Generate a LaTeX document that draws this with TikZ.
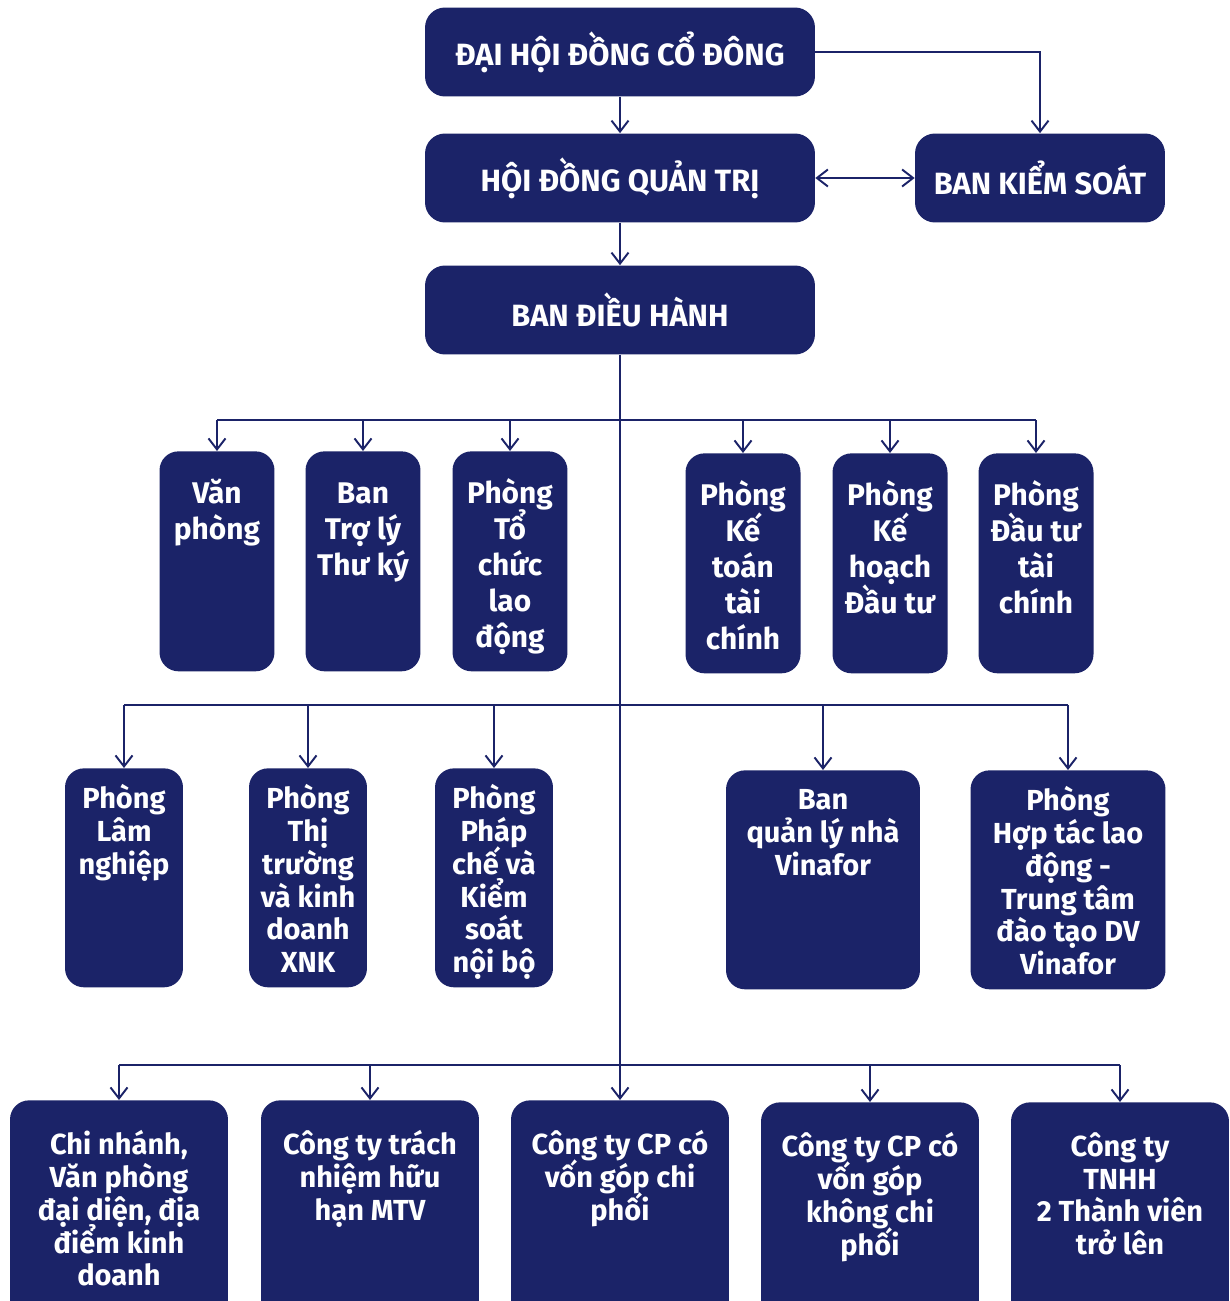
\documentclass[tikz,border=0pt]{standalone}
\usepackage{fontspec}
\setmainfont{Fira Sans}
\usetikzlibrary{arrows.meta}
\definecolor{navy}{RGB}{27,35,104}
\newcommand{\boxtxt}[4]{\parbox[t][#2][t]{#1}{\lineskiplimit=-\maxdimen\centering\vspace*{#3}\strut#4\par}}

\begin{document}
\begin{tikzpicture}[
  x=0.02cm, y=-0.02cm,
  >={Straight Barb[length=2.2mm,width=3.4mm]},
  head/.style={fill=navy,rounded corners=0.4cm,text=white,minimum height=1.78cm,
    font=\bfseries\fontsize{17.5}{21}\selectfont},
  dept/.style={fill=navy,rounded corners=0.38cm,text=white,inner sep=0pt,anchor=north,
    font=\bfseries\fontsize{17}{20.4}\selectfont},
  unit/.style={dept,font=\bfseries\fontsize{16.5}{18.7}\selectfont},
  line/.style={draw=navy,line width=1.1pt},
  arc/.style={line,->}
]
\useasboundingbox (0,0) rectangle (1230,1301);
\fill[white] (0,0) rectangle (1230,1301);

% top levels
\node[head,minimum width=7.8cm] (dhcd) at (620,52) {ĐẠI HỘI ĐỒNG CỔ ĐÔNG};
\node[head,minimum width=7.8cm] (hdqt) at (620,178) {HỘI ĐỒNG QUẢN TRỊ};
\node[head,minimum width=5cm] (bks) at (1040,178) {BAN KIỂM SOÁT};
\node[head,minimum width=7.8cm] (bdh) at (620,310) {BAN ĐIỀU HÀNH};

% first row of departments
\node[dept] (vp) at (217,451) {\boxtxt{2.3cm}{4.4cm}{0.55cm}{Văn\\phòng}};
\node[dept] (trly) at (363,451) {\boxtxt{2.3cm}{4.4cm}{0.55cm}{Ban\\Trợ lý\\Thư ký}};
\node[dept] (tcld) at (510,451) {\boxtxt{2.3cm}{4.4cm}{0.55cm}{Phòng\\Tổ\\chức\\lao\\động}};
\node[dept] (ktoan) at (743,453) {\boxtxt{2.3cm}{4.4cm}{0.55cm}{Phòng\\Kế\\toán\\tài\\chính}};
\node[dept] (khdt) at (890,453) {\boxtxt{2.3cm}{4.4cm}{0.55cm}{Phòng\\Kế\\hoạch\\Đầu tư}};
\node[dept] (dttc) at (1036,453) {\boxtxt{2.3cm}{4.4cm}{0.55cm}{Phòng\\Đầu tư\\tài\\chính}};

% second row
\node[unit] (lamn) at (124,768) {\boxtxt{2.36cm}{4.38cm}{0.32cm}{Phòng\\Lâm\\nghiệp}};
\node[unit] (ttkd) at (308,768) {\boxtxt{2.36cm}{4.38cm}{0.32cm}{Phòng\\Thị\\trường\\và kinh\\doanh\\XNK}};
\node[unit] (pche) at (494,768) {\boxtxt{2.36cm}{4.38cm}{0.32cm}{Phòng\\Pháp\\chế và\\Kiểm\\soát\\nội bộ}};
\node[unit] (bqln) at (823,770) {\boxtxt{3.88cm}{4.38cm}{0.32cm}{Ban\\quản lý nhà\\Vinafor}};
\node[unit] (htld) at (1068,770) {\boxtxt{3.9cm}{4.38cm}{0.32cm}{Phòng\\Hợp tác lao\\động -\\Trung tâm\\đào tạo DV\\Vinafor}};

% third row
\node[unit] (cnvp) at (119,1100) {\boxtxt{4.36cm}{4.8cm}{0.6cm}{Chi nhánh,\\Văn phòng\\đại diện, địa\\điểm kinh\\doanh}};
\node[unit] (mtv) at (370,1100) {\boxtxt{4.36cm}{4.8cm}{0.6cm}{Công ty trách\\nhiệm hữu\\hạn MTV}};
\node[unit] (ctcp) at (620,1100) {\boxtxt{4.36cm}{4.8cm}{0.6cm}{Công ty CP có\\vốn góp chi\\phối}};
\node[unit] (kcp) at (870,1102) {\boxtxt{4.36cm}{4.8cm}{0.6cm}{Công ty CP có\\vốn góp\\không chi\\phối}};
\node[unit] (hatv) at (1120,1102) {\boxtxt{4.36cm}{4.8cm}{0.6cm}{Công ty\\TNHH\\2 Thành viên\\trở lên}};

% connectors
\draw[arc] (dhcd) -- (hdqt);
\draw[arc] (dhcd.east) -| (bks.north);
\draw[line,<->] (hdqt.east) -- (bks.west);
\draw[arc] (hdqt) -- (bdh);
\draw[arc] (bdh) -- (ctcp);

\coordinate (bus1) at (620,420);
\coordinate (bus2) at (620,705);
\coordinate (bus3) at (620,1065);
\draw[line] (vp.north |- bus1) -- (dttc.north |- bus1);
\draw[line] (lamn.north |- bus2) -- (htld.north |- bus2);
\draw[line] (cnvp.north |- bus3) -- (hatv.north |- bus3);
\foreach \n in {vp,trly,tcld,ktoan,khdt,dttc}
  \draw[arc] (\n.north |- bus1) -- (\n.north);
\foreach \n in {lamn,ttkd,pche,bqln,htld}
  \draw[arc] (\n.north |- bus2) -- (\n.north);
\foreach \n in {cnvp,mtv,kcp,hatv}
  \draw[arc] (\n.north |- bus3) -- (\n.north);
\end{tikzpicture}
\end{document}
